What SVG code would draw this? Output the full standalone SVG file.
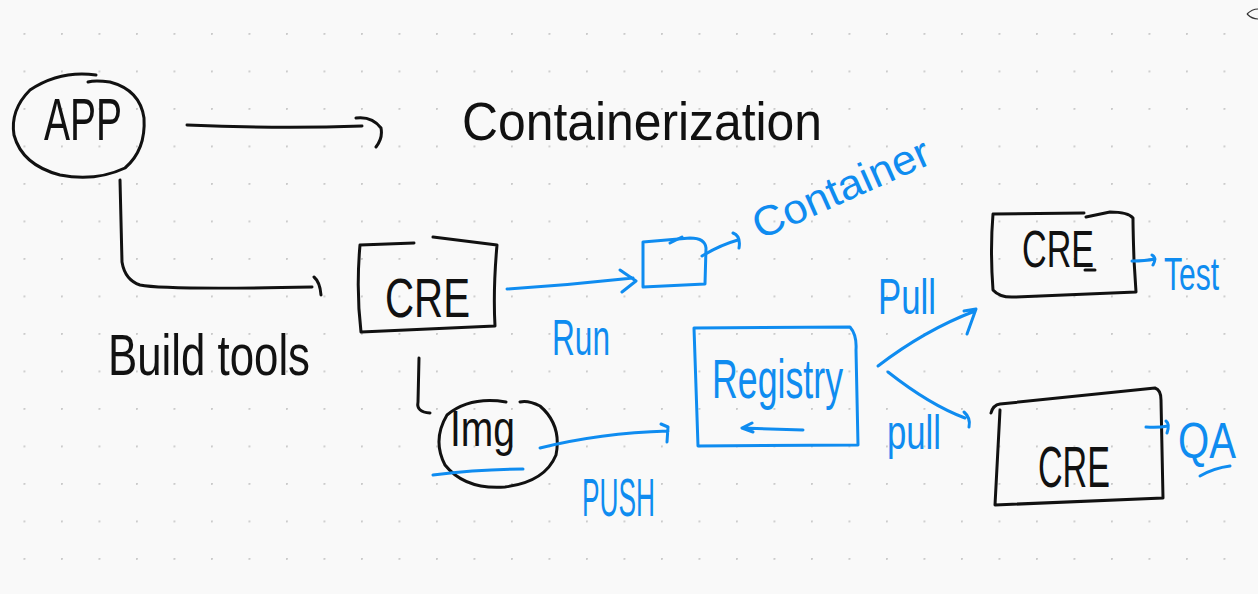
<svg xmlns="http://www.w3.org/2000/svg" width="1258" height="594" viewBox="0 0 1258 594">
<defs>
<pattern id="dots" x="23.5" y="33" width="37.5" height="37.5" patternUnits="userSpaceOnUse">
<circle cx="0.75" cy="0.75" r="1.2" fill="#cacaca"/>
</pattern>
<style>
.k{fill:none;stroke:#111;stroke-width:3;stroke-linecap:round;stroke-linejoin:round}
.b{fill:none;stroke:#0f8cf0;stroke-width:3;stroke-linecap:round;stroke-linejoin:round}
.tk{font-family:"Liberation Sans",Arial,sans-serif;fill:#111}
.tb{font-family:"Liberation Sans",Arial,sans-serif;fill:#0f8cf0}
</style>
</defs>
<rect width="1258" height="594" fill="#f9f9f9"/>
<rect width="1258" height="594" fill="url(#dots)"/>
<path d="M1247 14 Q1252 9 1258 9 M1247 14 Q1252 19 1258 19" fill="none" stroke="#333" stroke-width="1.2"/>

<g id="app">
<path class="k" d="M96 75 Q60 70 30 90 Q10 110 14 135 Q22 165 60 175 Q95 182 125 168 Q146 150 144 118 Q140 90 110 82 Q95 80 88 82"/>
<text class="tk" x="44" y="140" font-size="60" textLength="78" lengthAdjust="spacingAndGlyphs">APP</text>
</g>

<g id="containerization">
<text class="tk" x="462" y="140" font-size="54" textLength="360" lengthAdjust="spacingAndGlyphs">Containerization</text>
</g>

<g id="cre1">
<path class="k" d="M414 243 L360 245 Q356 290 361 332 L495 326 Q493 290 497 245 L433 237"/>
<text class="tk" x="385" y="317" font-size="56" textLength="85" lengthAdjust="spacingAndGlyphs">CRE</text>
</g>

<g id="container-box">
<path class="b" d="M643 242 L643 287 L705 284 L706 248 Q705 238 690 238 L643 242"/>
<path class="b" d="M670 243 L682 237"/>
</g>

<g id="container-label">
<text class="tb" x="760" y="240" font-size="42" textLength="190" lengthAdjust="spacingAndGlyphs" transform="rotate(-24 760 240)">Container</text>
</g>

<g id="img">
<path class="k" d="M506 402 Q470 396 447 415 Q432 440 445 465 Q465 490 505 487 Q545 482 556 455 Q562 425 540 406 Q528 400 520 402"/>
<text class="tk" x="450" y="446" font-size="50" textLength="65" lengthAdjust="spacingAndGlyphs">Img</text>
<path class="b" d="M433 475 Q480 469 523 469"/>
</g>

<g id="registry">
<path class="b" d="M694 328 L850 327 Q857 335 856 350 L858 445 L698 446 Z"/>
<text class="tb" x="712" y="398" font-size="56" textLength="131" lengthAdjust="spacingAndGlyphs">Registry</text>
<path class="b" d="M803 430 L742 428 M752 423 L742 428 L753 432"/>
</g>

<g id="cre-test">
<path class="k" d="M1084 213 L993 214 Q990 250 993 290 Q1000 298 1015 297 L1136 292 L1134 260 Q1133 230 1133 218 Q1128 212 1110 212 L1086 217"/>
<text class="tk" x="1022" y="267" font-size="52" textLength="72" lengthAdjust="spacingAndGlyphs">CRE</text>
<path class="k" d="M1085 270 L1095 270"/>
</g>

<g id="cre-qa">
<path class="k" d="M991 413 Q993 405 1000 404 L1155 388 Q1161 390 1161 400 L1163 498 L995 505 L1000 410"/>
<text class="tk" x="1038" y="487" font-size="58" textLength="72" lengthAdjust="spacingAndGlyphs">CRE</text>
</g>

<g id="labels">
<text class="tk" x="108" y="375" font-size="58" textLength="202" lengthAdjust="spacingAndGlyphs">Build tools</text>
<text class="tb" x="552" y="355" font-size="50" textLength="58" lengthAdjust="spacingAndGlyphs">Run</text>
<text class="tb" x="582" y="516" font-size="54" textLength="73" lengthAdjust="spacingAndGlyphs">PUSH</text>
<text class="tb" x="878" y="314" font-size="50" textLength="58" lengthAdjust="spacingAndGlyphs">Pull</text>
<text class="tb" x="887" y="449" font-size="48" textLength="54" lengthAdjust="spacingAndGlyphs">pull</text>
<text class="tb" x="1164" y="290" font-size="46" textLength="55" lengthAdjust="spacingAndGlyphs">Test</text>
<text class="tb" x="1178" y="458" font-size="50" textLength="58" lengthAdjust="spacingAndGlyphs">QA</text>
<path class="b" d="M1200 476 Q1214 468 1230 466"/>
</g>

<g id="connectors">
<path class="k" d="M187 125 Q280 129 362 126 M356 118 Q372 116 381 128 Q383 138 376 147"/>
<path class="k" d="M120 180 L122 262 Q125 280 140 285 Q165 290 312 287 M314 277 Q320 282 321 295"/>
<path class="k" d="M419 358 L418 402 Q416 412 430 413"/>
<path class="b" d="M507 289 Q570 285 633 278 M620 270 L636 281 L622 292"/>
<path class="b" d="M702 256 Q720 245 738 240 M733 233 Q741 236 739 248"/>
<path class="b" d="M540 448 Q600 433 668 431 M661 424 L668 427 L667 442"/>
<path class="b" d="M878 366 Q925 330 975 311 M964 311 L976 309 L967 334"/>
<path class="b" d="M888 372 Q930 405 965 418 M964 412 Q971 418 969 427"/>
<path class="b" d="M1132 261 Q1145 261 1155 259 M1152 255 Q1157 258 1153 265"/>
<path class="b" d="M1146 427 Q1158 428 1168 426 M1166 421 Q1170 424 1167 433"/>
</g>
</svg>
